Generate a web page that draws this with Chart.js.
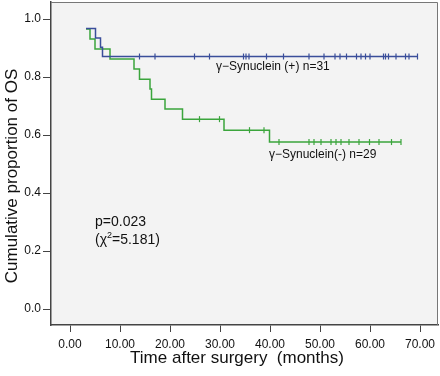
<!DOCTYPE html>
<html>
<head>
<meta charset="utf-8">
<script src="https://cdn.jsdelivr.net/npm/chart.js@4/dist/chart.umd.min.js"></script>
<style>
  html, body { margin: 0; padding: 0; background: #fff; }
  #wrap { width: 440px; height: 376px; position: relative; }
</style>
</head>
<body>
<div id="wrap"><canvas id="kmChart"></canvas></div>
<script>
// γ-Synuclein (+) : 生存曲線 (イベント時刻, 累積生存率)
const posTimes = [3.2, 5.1, 6.1, 6.5, 69.5];
const posSurv = [0.968, 0.935, 0.903, 0.871, 0.871];
const posCensored = [13.9, 17.0, 24.9, 27.9, 34.7, 35.2, 35.8, 39.3, 42.7, 47.8, 50.8, 53.0, 54.0,
    55.3, 57.3, 58.2, 59.1, 60.0, 62.7, 63.1, 63.7, 65.2, 67.1, 67.8, 69.5];

// γ-Synuclein (-)
const negTimes = [3.2, 4.0, 5.0, 8.0, 12.8, 13.9, 16.0, 16.3, 19.0, 22.5, 30.8, 39.9, 66.2];
const negSurv = [0.966, 0.931, 0.897, 0.862, 0.828, 0.793, 0.759, 0.724, 0.690, 0.655, 0.617, 0.576, 0.576];
const negCensored = [25.9, 29.9, 35.9, 38.8, 41.8, 47.8, 48.8, 50.2, 52.2, 53.2, 54.2, 55.8, 57.8,
    59.9, 61.8, 64.3, 66.2];

// 目盛り
const xTicks = [0, 10, 20, 30, 40, 50, 60, 70];
const yTicks = [0, 0.2, 0.4, 0.6, 0.8, 1.0];

const BLUE = '#3a4e9a';
const GREEN = '#3ba53c';
const FONT = '"Liberation Sans", Arial, sans-serif';

function toPoints(times, surv) {
    return times.map((t, i) => ({ x: t, y: surv[i] }));
}

// 打ち切り点の高さは曲線から読む
function survAt(times, surv, t) {
    let s = surv[0];
    for (let i = 0; i < times.length; i++) {
        if (times[i] <= t) s = surv[i];
    }
    return s;
}

function censorPoints(censored, times, surv) {
    return censored.map(t => ({ x: t, y: survAt(times, surv, t) }));
}

// 図中の注釈 (データ座標)
const notes = [
    { text: 'γ−Synuclein (+) n=31', x: 29.2, y: 0.836, size: 12 },
    { text: 'γ−Synuclein(-) n=29', x: 39.8, y: 0.532, size: 12 },
    { text: 'p=0.023', x: 5.0, y: 0.300, size: 14 }
];

const plotFrame = {
    id: 'plotFrame',
    beforeDraw(chart) {
        const { ctx, chartArea: a } = chart;
        ctx.save();
        ctx.fillStyle = '#f3f3f3';
        ctx.fillRect(a.left, a.top, a.right - a.left, a.bottom - a.top);
        ctx.restore();
    },
    afterDraw(chart) {
        const { ctx, chartArea: a, scales } = chart;
        ctx.save();
        ctx.strokeStyle = '#777';
        ctx.lineWidth = 1;
        ctx.beginPath();
        ctx.moveTo(a.left, a.top + 0.5);
        ctx.lineTo(a.right - 0.5, a.top + 0.5);
        ctx.lineTo(a.right - 0.5, a.bottom);
        ctx.stroke();

        ctx.fillStyle = '#111';
        ctx.textBaseline = 'middle';
        ctx.textAlign = 'left';
        notes.forEach(n => {
            ctx.font = n.size + 'px ' + FONT;
            ctx.fillText(n.text, scales.x.getPixelForValue(n.x), scales.y.getPixelForValue(n.y));
        });

        // (χ²=5.181)
        let px = scales.x.getPixelForValue(5.0);
        const py = scales.y.getPixelForValue(0.238);
        ctx.font = '14px ' + FONT;
        ctx.fillText('(χ', px, py);
        px += ctx.measureText('(χ').width;
        ctx.font = '9px ' + FONT;
        ctx.fillText('2', px, py - 5);
        px += ctx.measureText('2').width;
        ctx.font = '14px ' + FONT;
        ctx.fillText('=5.181)', px, py);

        // 軸タイトル
        ctx.font = '17px ' + FONT;
        ctx.textAlign = 'center';
        ctx.fillText('Time after surgery  (months)', 237, 358);
        ctx.translate(12, 176);
        ctx.rotate(-Math.PI / 2);
        ctx.fillText('Cumulative proportion of OS', 0, 0);
        ctx.restore();
    }
};

const ctx = document.getElementById('kmChart').getContext('2d');
new Chart(ctx, {
    type: 'line',
    data: {
        datasets: [
            {
                label: 'γ-Synuclein (+)',
                data: toPoints(posTimes, posSurv),
                borderColor: BLUE,
                borderWidth: 1.5,
                stepped: 'before',
                pointRadius: 0,
                fill: false
            },
            {
                label: 'γ-Synuclein (+) censored',
                data: censorPoints(posCensored, posTimes, posSurv),
                showLine: false,
                pointStyle: 'line',
                rotation: 90,
                pointRadius: 3,
                borderColor: BLUE,
                borderWidth: 1.2
            },
            {
                label: 'γ-Synuclein (-)',
                data: toPoints(negTimes, negSurv),
                borderColor: GREEN,
                borderWidth: 1.5,
                stepped: 'before',
                pointRadius: 0,
                fill: false
            },
            {
                label: 'γ-Synuclein (-) censored',
                data: censorPoints(negCensored, negTimes, negSurv),
                showLine: false,
                pointStyle: 'line',
                rotation: 90,
                pointRadius: 3,
                borderColor: GREEN,
                borderWidth: 1.2
            }
        ]
    },
    options: {
        responsive: true,
        maintainAspectRatio: false,
        animation: false,
        layout: { autoPadding: false, padding: { top: 2, right: 2, left: 0, bottom: 0 } },
        plugins: {
            legend: { display: false },
            tooltip: { enabled: false }
        },
        scales: {
            x: {
                type: 'linear',
                min: -3.8,
                max: 73.6,
                afterFit: function (scale) {
                    scale.height = 51;
                    scale.paddingLeft = 0;
                    scale.paddingRight = 0;
                },
                afterBuildTicks: function (scale) {
                    scale.ticks = xTicks.map(v => ({ value: v }));
                },
                grid: {
                    drawOnChartArea: false,
                    drawTicks: true,
                    tickLength: 7,
                    color: '#444'
                },
                border: { color: '#444', width: 1.5 },
                ticks: {
                    color: '#111',
                    padding: 5,
                    maxRotation: 0,
                    font: { family: FONT, size: 12 },
                    callback: function (value) { return Number(value).toFixed(2); }
                }
            },
            y: {
                type: 'linear',
                min: -0.055,
                max: 1.059,
                afterFit: function (scale) {
                    scale.width = 51;
                    scale.paddingTop = 0;
                    scale.paddingBottom = 0;
                },
                afterBuildTicks: function (scale) {
                    scale.ticks = yTicks.map(v => ({ value: v }));
                },
                grid: {
                    drawOnChartArea: false,
                    drawTicks: true,
                    tickLength: 8,
                    color: '#444'
                },
                border: { color: '#444', width: 1.5 },
                ticks: {
                    color: '#111',
                    padding: 2,
                    font: { family: FONT, size: 12 },
                    callback: function (value) { return Number(value).toFixed(1); }
                }
            }
        }
    },
    plugins: [plotFrame]
});
</script>
</body>
</html>
